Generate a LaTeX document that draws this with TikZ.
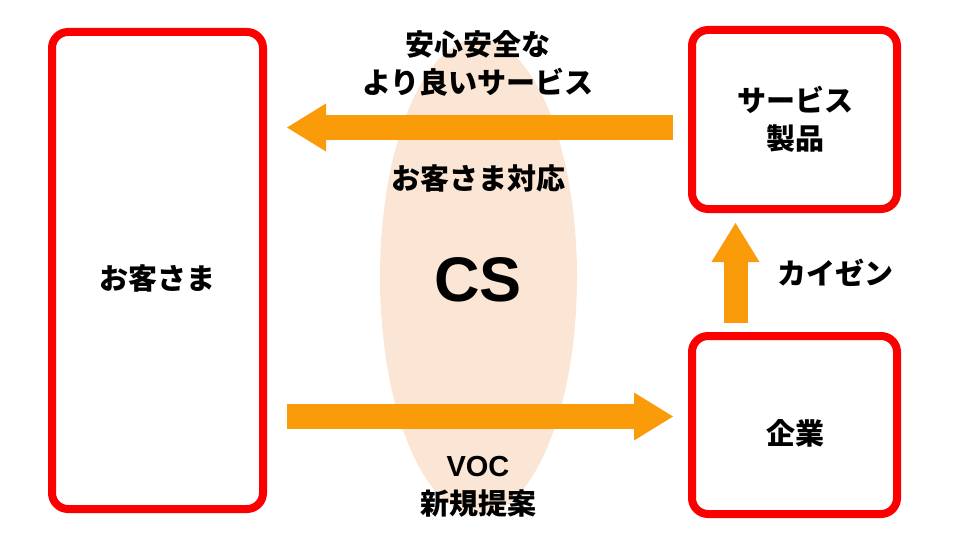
\documentclass[tikz,border=0pt]{standalone}
\usepackage{fontspec}
\setmainfont{Liberation Sans}
\newfontfamily\jpfont{Noto Sans CJK JP}
\usetikzlibrary{arrows.meta,shapes.geometric}
\definecolor{boxred}{RGB}{250,0,0}
\definecolor{flow}{RGB}{250,155,10}
\definecolor{peach}{RGB}{251,229,212}

\begin{document}
\begin{tikzpicture}[x=1pt,y=-1pt,
  box/.style={draw=boxred,line width=8pt,rounded corners=16pt,inner sep=0pt},
  lbl/.style={font=\jpfont\bfseries\fontsize{29}{38}\selectfont,align=center,inner sep=0pt},
  bigarrow/.style={draw=flow,line width=25pt,-{Triangle[width=48pt,length=39pt,line width=0pt]}}]
\useasboundingbox (0,0) rectangle (960,540);
% middle ellipse
\node (cs) at (478.5,277) [ellipse,fill=peach,inner sep=0pt,minimum width=197pt,minimum height=476pt] {};
\node (cstxt) at (478,280) [font=\bfseries\fontsize{63}{70}\selectfont,inner sep=0pt] {CS};
% boxes
\node (kyaku) at (157.5,270.5) [box,minimum width=211pt,minimum height=477pt] {};
\node (sv) at (794.5,119.5) [box,minimum width=205pt,minimum height=179pt] {};
\node (kigyo) at (794.5,425) [box,minimum width=205pt,minimum height=178pt] {};
% arrow ends
\coordinate (a1) at (673,127.5);
\coordinate (a2) at (287,127.5);
\coordinate (b1) at (287,416.5);
\coordinate (b2) at (673,416.5);
\coordinate (c1) at (735.5,323);
\coordinate (c2) at (735.5,223);
\draw[bigarrow] (a1) -- (a2);
\draw[bigarrow] (b1) -- (b2);
\draw[bigarrow,line width=24pt] (c1) -- (c2);
% texts
\node (kyakutxt) at (157,279) [lbl] {お客さま};
\node (svtxt) at (795,119) [lbl] {サービス\\製品};
\node (kigyotxt) at (795,433) [lbl] {企業};
\node (kaizen) at (835,273) [lbl] {カイゼン};
\node (anshin) at (478,63) [lbl] {安心安全な\\より良いサービス};
\node (taiou) at (478,178) [lbl] {お客さま対応};
\node (voc) at (478,487) [lbl] {{\normalfont\bfseries VOC}\\新規提案};
\end{tikzpicture}
\end{document}
